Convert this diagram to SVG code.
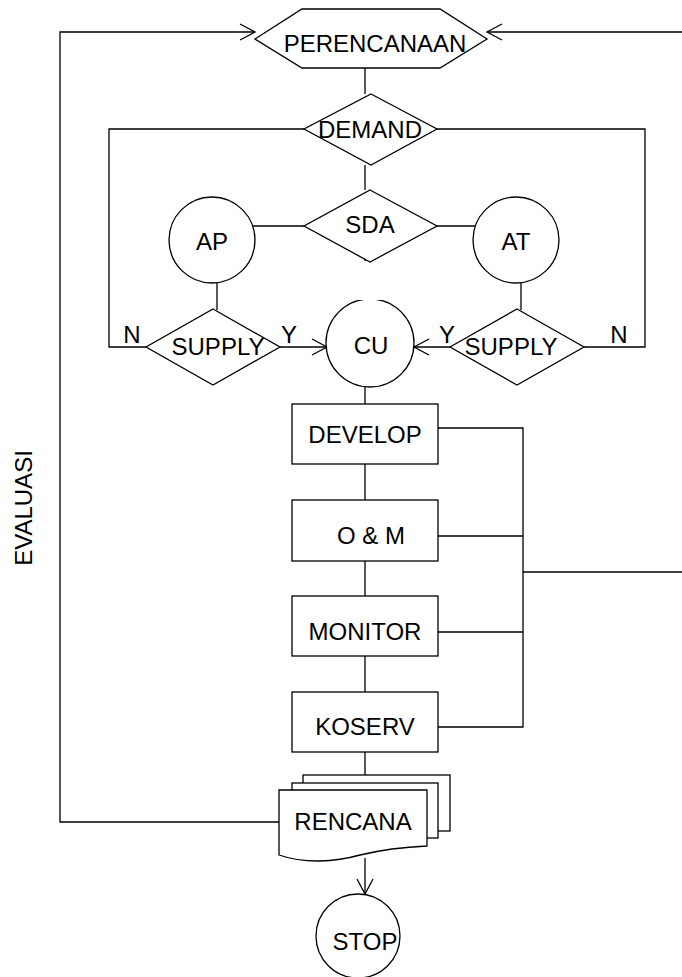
<svg xmlns="http://www.w3.org/2000/svg" width="682" height="977" viewBox="0 0 682 977">
<style>
.s{fill:#fff;stroke:#000;stroke-width:1.3}
.c{fill:none;stroke:#000;stroke-width:1.3}
text{font-family:"Liberation Sans",Arial,sans-serif;font-size:24px;fill:#000;text-anchor:middle}
</style>
<defs>
<marker id="ah" markerWidth="20" markerHeight="20" refX="15" refY="8" orient="auto" markerUnits="userSpaceOnUse" overflow="visible"><path d="M0,0 L15,8 L0,16" fill="none" stroke="#000" stroke-width="1.3"/></marker>
<clipPath id="cuclip"><rect x="300" y="300" width="150" height="120"/></clipPath>
</defs>
<g id="connectors">
<path class="c" d="M279,822 H60 V32 H255" marker-end="url(#ah)"/>
<path class="c" d="M523,572 H684 V32 H487" marker-end="url(#ah)"/>
<path class="c" d="M365,68 V94"/>
<path class="c" d="M365,165 V190"/>
<path class="c" d="M365,256 V261"/>
<path class="c" d="M304,129 H109 V347 H146"/>
<path class="c" d="M437,129 H645 V347 H584"/>
<path class="c" d="M252,226 H304"/>
<path class="c" d="M437,226 H476"/>
<path class="c" d="M217,283 V310"/>
<path class="c" d="M521,283 V310"/>
<path class="c" d="M280,347 H327" marker-end="url(#ah)"/>
<path class="c" d="M450,347 H414" marker-end="url(#ah)"/>
<path class="c" d="M365,387 V404"/>
<path class="c" d="M365,464 V500"/>
<path class="c" d="M365,561 V596"/>
<path class="c" d="M365,656 V692"/>
<path class="c" d="M365,752 V775"/>
<path class="c" d="M438,428 H523 V727 H438"/>
<path class="c" d="M438,536 H523"/>
<path class="c" d="M438,632 H523"/>
<path class="c" d="M365,858 V894" marker-end="url(#ah)"/>
</g>
<g id="perencanaan">
<polygon class="s" points="255,39 302,9 440,9 487,39 440,68 302,68"/>
<text x="375" y="52">PERENCANAAN</text>
</g>
<g id="demand">
<polygon class="s" points="371,94 437,129 371,165 304,129"/>
<text x="370" y="138">DEMAND</text>
</g>
<g id="sda">
<polygon class="s" points="370,190 437,226 370,262 304,226"/>
<text x="370" y="233">SDA</text>
</g>
<g id="ap">
<circle class="s" cx="212" cy="240" r="43"/>
<text x="212" y="250">AP</text>
</g>
<g id="at">
<circle class="s" cx="516" cy="240" r="43"/>
<text x="516" y="250">AT</text>
</g>
<g id="supply-left">
<polygon class="s" points="213,309 280,347 213,385 146,347"/>
<text x="218" y="355">SUPPLY</text>
</g>
<g id="supply-right">
<polygon class="s" points="517,309 584,347 517,385 450,347"/>
<text x="511" y="355">SUPPLY</text>
</g>
<g id="cu">
<circle class="s" cx="370" cy="343" r="44" clip-path="url(#cuclip)"/>
<text x="371" y="354">CU</text>
</g>
<g id="labels">
<text x="132" y="343">N</text>
<text x="289" y="343">Y</text>
<text x="447" y="343">Y</text>
<text x="619" y="343">N</text>
<text transform="translate(32,508) rotate(-90)">EVALUASI</text>
</g>
<g id="develop">
<rect class="s" x="292" y="404" width="146" height="60"/>
<text x="365" y="443">DEVELOP</text>
</g>
<g id="om">
<rect class="s" x="292" y="500" width="146" height="61"/>
<text x="371" y="544">O &amp; M</text>
</g>
<g id="monitor">
<rect class="s" x="292" y="596" width="146" height="60"/>
<text x="365" y="640">MONITOR</text>
</g>
<g id="koserv">
<rect class="s" x="292" y="692" width="146" height="60"/>
<text x="365" y="735">KOSERV</text>
</g>
<g id="rencana">
<rect class="s" x="303" y="775" width="147" height="56"/>
<rect class="s" x="292" y="783" width="146" height="55"/>
<path class="s" d="M279,790 H427 V846 C405,847 385,849 360,855 C335,862 305,864 279,855 Z"/>
<text x="353" y="830">RENCANA</text>
</g>
<g id="stop">
<circle class="s" cx="358" cy="936" r="42"/>
<text x="365" y="950">STOP</text>
</g>
</svg>
